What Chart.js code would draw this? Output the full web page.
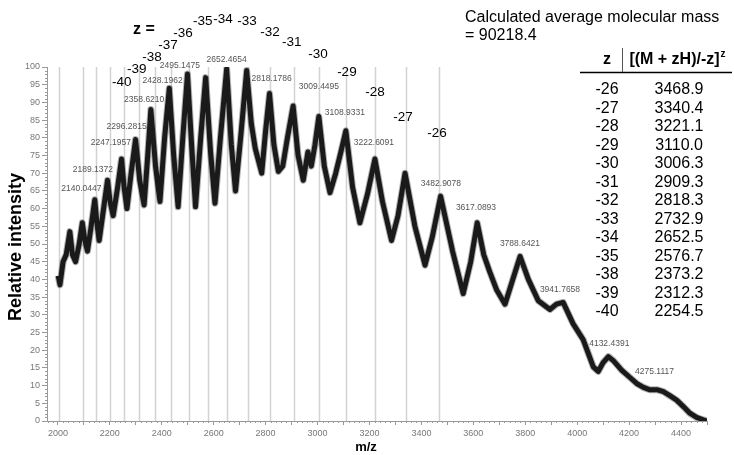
<!DOCTYPE html>
<html lang="en">
<head>
<meta charset="UTF-8">
<title>Mass spectrum, charge state series</title>
<script src="https://cdn.jsdelivr.net/npm/chart.js"></script>
<style>
  html, body { margin: 0; padding: 0; background: #fff; }
</style>
</head>
<body>
<canvas id="spectrum" width="734" height="455"></canvas>
<script>
// spectrum trace
const mz = [2001, 2008, 2020, 2032, 2046, 2056, 2068, 2082, 2094, 2104, 2114, 2128, 2142, 2150, 2159,
  2176, 2191, 2201, 2213, 2230, 2245, 2255, 2266, 2282, 2299, 2315, 2332, 2346, 2358, 2376, 2393,
  2411, 2429, 2446, 2463, 2481, 2499, 2515, 2530, 2550, 2569, 2588, 2605, 2626, 2650, 2668, 2684,
  2705, 2727, 2745, 2760, 2785, 2800, 2815, 2832, 2849, 2866, 2884, 2906, 2925, 2945, 2963, 2976,
  2990, 3005, 3026, 3048, 3070, 3090, 3109, 3135, 3163, 3192, 3221, 3250, 3285, 3310, 3337, 3375,
  3414, 3442, 3474, 3520, 3561, 3590, 3615, 3640, 3664, 3690, 3722, 3752, 3780, 3812, 3850, 3895,
  3920, 3946, 3984, 4023, 4062, 4081, 4100, 4120, 4140, 4171, 4200, 4229, 4255, 4280, 4310, 4332,
  4360, 4383, 4410, 4434, 4460, 4486, 4500];
const intensity = [41, 38.5, 45, 47, 53.5, 47, 45, 50, 56, 51, 48, 55, 62.5, 56, 51,
  60, 68, 62, 58, 66, 74, 66, 60, 70, 79.5, 68, 61, 75, 88, 72, 62,
  80, 94, 75, 60.5, 80, 98, 78, 60.5, 80, 97, 76, 61.5, 80, 99.5, 78, 65,
  81, 99, 84, 77, 70, 82, 92.5, 78, 70.5, 72, 80, 89, 75, 68, 76, 72,
  78, 86, 72, 64.5, 70, 76, 82, 66, 56, 64, 74, 62, 51, 58, 70, 55,
  44, 52, 63.5, 48, 36, 45, 56, 47, 42, 37, 33, 40, 46.5, 40, 34, 31.5,
  33, 33.5, 27.5, 23, 15.3, 14, 16.5, 18.2, 17, 14.4, 12.5, 10.6, 9.5, 8.8, 8.8, 8.3,
  7, 5.9, 4, 2.2, 1, 0.3, 0];

// calculated m/z of each charge state (grey guide lines)
const lineCharges = [-45, -43, -42, -41, -40, -39, -38, -37, -36, -35, -34, -33, -32, -31, -30, -29, -28, -27, -26];
const lineMz = [2003.9, 2097.1, 2147.1, 2199.4, 2254.5, 2312.3, 2373.2, 2437.3, 2505.0, 2576.7,
  2652.5, 2732.9, 2818.3, 2909.3, 3006.3, 3110.0, 3221.1, 3340.4, 3468.9];

// charge labels written above the lines (where each one sits, in axis units)
const labelCharges = [-40, -39, -38, -37, -36, -35, -34, -33, -32, -31, -30, -29, -28, -27, -26];
const labelMz = [2246, 2304, 2362, 2424, 2482, 2558, 2636, 2728, 2817, 2901, 3002, 3113, 3221, 3329, 3460];
const labelHeights = [95.8, 99.4, 102.8, 106.2, 109.6, 113, 113.6, 112.9, 109.9, 107, 103.7, 98.6, 92.9, 85.9, 81.3];

// picked peaks and where their labels sit
const peakNames = ['2140.0447', '2189.1372', '2247.1957', '2296.2815', '2358.6210', '2428.1962', '2495.1475',
  '2652.4654', '2818.1786', '3009.4495', '3108.9331', '3222.6091', '3482.9078', '3617.0893', '3788.6421',
  '3941.7658', '4132.4391', '4275.1117'];
const peakLabelMz = [2090.5, 2134.8, 2204.2, 2264.6, 2332.4, 2403.3, 2470, 2649.8, 2823.2, 3005.4, 3105.5,
  3217.3, 3475.3, 3610.2, 3779.7, 3933.7, 4123.6, 4297.8];
const peakLabelY = [65.5, 70.9, 78.6, 83.1, 90.7, 96.1, 100.5, 102, 96.6, 94.4, 87, 78.5, 67, 60.2, 50.2, 37, 21.9, 13.8];

// table on the right
const tableZ = ['-26', '-27', '-28', '-29', '-30', '-31', '-32', '-33', '-34', '-35', '-38', '-39', '-40'];
const tableMass = ['3468.9', '3340.4', '3221.1', '3110.0', '3006.3', '2909.3', '2818.3', '2732.9', '2652.5',
  '2576.7', '2373.2', '2312.3', '2254.5'];

const FONT = '"Liberation Sans", Arial, sans-serif';

const extras = {
  id: 'extras',
  beforeDatasetsDraw(chart) {
    const { ctx, scales: { x, y } } = chart;
    ctx.save();
    ctx.strokeStyle = '#d2d2d2';
    ctx.lineWidth = 1.5;
    lineMz.forEach(v => {
      const px = Math.round(x.getPixelForValue(v)) + 0.5;
      ctx.beginPath();
      ctx.moveTo(px, y.getPixelForValue(0));
      ctx.lineTo(px, y.getPixelForValue(100));
      ctx.stroke();
    });
    ctx.restore();
  },
  afterDraw(chart) {
    const { ctx, scales: { x, y } } = chart;
    ctx.save();

    // minor ticks
    ctx.strokeStyle = '#999';
    ctx.lineWidth = 1;
    const y0 = y.getPixelForValue(0);
    for (let v = 1960; v <= 4500; v += 20) {
      if (v % 100 === 0) continue;
      const px = Math.round(x.getPixelForValue(v)) + 0.5;
      ctx.beginPath(); ctx.moveTo(px, y0); ctx.lineTo(px, y0 + 2); ctx.stroke();
    }
    const xl = x.left;
    for (let v = 0; v <= 100; v++) {
      if (v % 5 === 0) continue;
      const py = Math.round(y.getPixelForValue(v)) + 0.5;
      ctx.beginPath(); ctx.moveTo(xl - 2, py); ctx.lineTo(xl, py); ctx.stroke();
    }

    // peak labels
    ctx.fillStyle = '#555';
    ctx.font = '8.5px ' + FONT;
    ctx.textAlign = 'center';
    ctx.textBaseline = 'middle';
    peakNames.forEach((t, i) => {
      ctx.fillText(t, x.getPixelForValue(peakLabelMz[i]), y.getPixelForValue(peakLabelY[i]));
    });

    // charge state labels
    ctx.fillStyle = '#000';
    ctx.font = '13.5px ' + FONT;
    labelCharges.forEach((z, i) => {
      ctx.fillText(String(z), x.getPixelForValue(labelMz[i]), y.getPixelForValue(labelHeights[i]));
    });
    ctx.font = 'bold 16px ' + FONT;
    ctx.fillText('z =', 144, 30);

    // axis titles
    ctx.font = 'bold 13px ' + FONT;
    ctx.fillText('m/z', 366, 447);
    ctx.save();
    ctx.translate(16, 247);
    ctx.rotate(-Math.PI / 2);
    ctx.font = 'bold 18px ' + FONT;
    ctx.fillText('Relative intensity', 0, 0);
    ctx.restore();

    // mass note
    ctx.textAlign = 'left';
    ctx.font = '16px ' + FONT;
    ctx.fillText('Calculated average molecular mass', 465, 18);
    ctx.fillText('= 90218.4', 465, 36);

    // table
    ctx.font = 'bold 16px ' + FONT;
    ctx.textAlign = 'center';
    ctx.fillText('z', 607, 60);
    ctx.textAlign = 'left';
    const head = '[(M + zH)/-z]';
    const hw = ctx.measureText(head).width;
    const hx = 678 - (hw + 7) / 2;
    ctx.fillText(head, hx, 60);
    ctx.font = 'bold 10px ' + FONT;
    ctx.fillText('z', hx + hw + 1, 54);

    ctx.strokeStyle = '#000';
    ctx.lineWidth = 1.5;
    ctx.beginPath(); ctx.moveTo(580, 72.5); ctx.lineTo(732, 72.5); ctx.stroke();
    ctx.strokeStyle = '#555';
    ctx.lineWidth = 1;
    ctx.beginPath(); ctx.moveTo(622.5, 48); ctx.lineTo(622.5, 72); ctx.stroke();

    ctx.font = '16px ' + FONT;
    ctx.textAlign = 'center';
    tableZ.forEach((z, i) => {
      const ty = 90 + i * 18.47;
      ctx.fillText(z, 607, ty);
      ctx.fillText(tableMass[i], 679, ty);
    });

    ctx.restore();
  }
};

const points = mz.map((v, i) => ({ x: v, y: intensity[i] }));

new Chart(document.getElementById('spectrum'), {
  type: 'scatter',
  data: {
    datasets: [{
      data: points,
      showLine: true,
      borderColor: '#1a1a1a',
      borderWidth: 5,
      borderJoinStyle: 'round',
      pointRadius: 0,
      order: 0
    }, {
      // soft edge of the noise band
      data: points,
      showLine: true,
      borderColor: 'rgba(0,0,0,0.3)',
      borderWidth: 7,
      borderJoinStyle: 'round',
      pointRadius: 0,
      order: 1
    }]
  },
  options: {
    responsive: false,
    animation: false,
    layout: { padding: { top: 67, right: 27, bottom: 0, left: 0 } },
    plugins: { legend: { display: false }, tooltip: { enabled: false } },
    scales: {
      x: {
        type: 'linear',
        min: 1958,
        max: 4500,
        afterFit: s => { s.height = 34; },
        grid: { drawOnChartArea: false, tickLength: 4, color: '#999' },
        border: { color: '#999', width: 1 },
        ticks: {
          stepSize: 100,
          includeBounds: false,
          autoSkip: false,
          maxRotation: 0,
          padding: 3,
          color: '#777',
          font: { size: 9, family: FONT },
          callback: v => (v % 200 === 0 ? String(v) : '')
        }
      },
      y: {
        min: 0,
        max: 100,
        afterFit: s => { s.width = 47; },
        grid: { drawOnChartArea: false, tickLength: 5, color: '#999' },
        border: { color: '#999', width: 1 },
        ticks: {
          stepSize: 5,
          autoSkip: false,
          padding: 2,
          color: '#777',
          font: { size: 9, family: FONT }
        }
      }
    }
  },
  plugins: [extras]
});
</script>
</body>
</html>
